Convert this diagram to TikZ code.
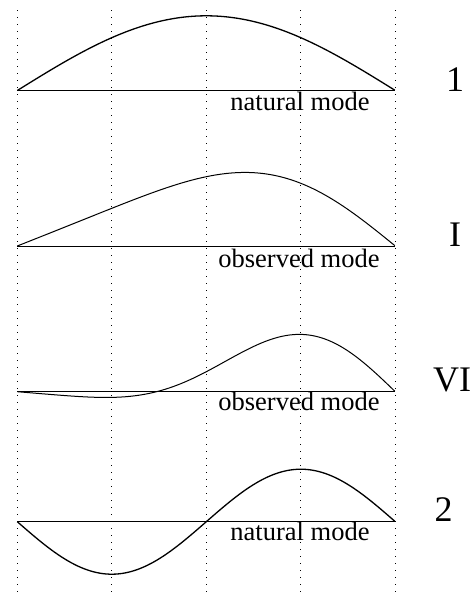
\documentclass[tikz,border=0pt]{standalone}
\usepackage{fontspec}
\setmainfont{Liberation Serif}
\begin{document}
\begin{tikzpicture}[x=1pt,y=-1pt,
  grid/.style={line width=1.1pt,dash pattern=on 1.2pt off 5.8pt,black},
  axis/.style={line width=0.9pt},
  curvethick/.style={line width=1.3pt},
  curvethin/.style={line width=1pt},
  modetext/.style={font=\fontsize{26.5}{30}\selectfont,anchor=base,inner sep=0pt},
  numlabel/.style={font=\fontsize{36}{40}\selectfont,anchor=base,inner sep=0pt}]
\useasboundingbox (0,0) rectangle (475,592);
% dotted verticals
\foreach \k in {0,...,4}
  \draw[grid] ({17.3+94.5*\k},10) -- ({17.3+94.5*\k},592);
% mode 1
\coordinate (a1) at (17.3,90.5);
\coordinate (b1) at (395.3,90.5);
\draw[axis] (a1) -- (b1);
\draw[curvethick] plot[domain=0:1,samples=120] ({17.3+378*\x},{90.5-74.7*sin(180*\x)});
\node[modetext] (t1) at (300,110.7) {natural mode};
\node[numlabel] (l1) at (455,91) {1};
% mode I
\coordinate (a2) at (17.3,246);
\coordinate (b2) at (395.3,246);
\draw[axis] (a2) -- (b2);
\draw[curvethin] plot[domain=0:1,samples=120] ({17.3+378*\x},{246-(70.15*sin(180*\x)-12.5*sin(360*\x)+0.85*sin(540*\x))});
\node[modetext] (t2) at (299,267.5) {observed mode};
\node[numlabel] (l2) at (455,246) {I};
% mode VI
\coordinate (a3) at (17.3,391.7);
\coordinate (b3) at (395.3,391.7);
\draw[axis] (a3) -- (b3);
\draw[curvethin] plot[domain=0:1,samples=120] ({17.3+378*\x},{391.7-(28.25*sin(180*\x)-31.5*sin(360*\x)+8.25*sin(540*\x))});
\node[modetext] (t3) at (299,410.5) {observed mode};
\node[numlabel] (l3) at (452,391.7) {VI};
% mode 2
\coordinate (a4) at (17.3,521.7);
\coordinate (b4) at (395.3,521.7);
\draw[axis] (a4) -- (b4);
\draw[curvethick] plot[domain=0:1,samples=120] ({17.3+378*\x},{521.7+52.5*sin(360*\x)});
\node[modetext] (t4) at (300,540.5) {natural mode};
\node[numlabel] (l4) at (443.5,521.7) {2};
\end{tikzpicture}
\end{document}
